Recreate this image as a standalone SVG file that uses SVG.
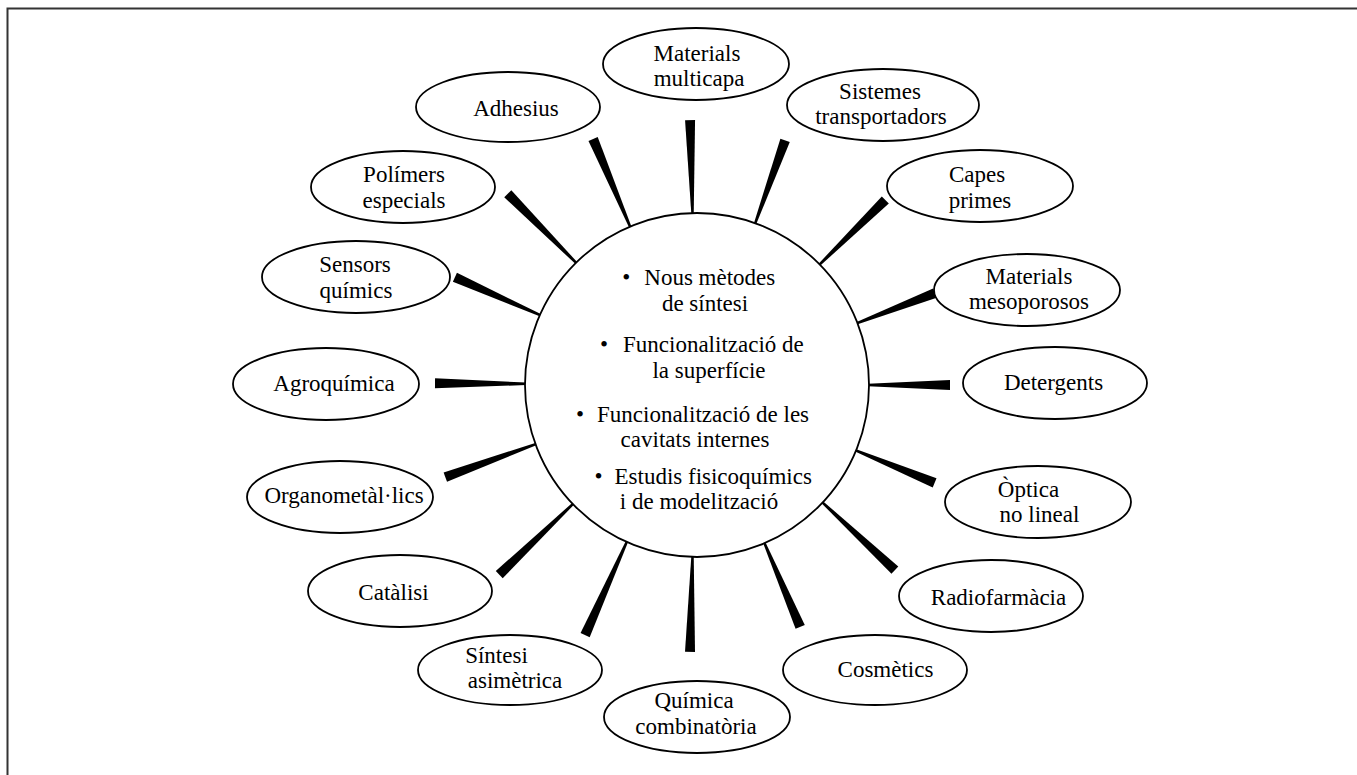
<svg xmlns="http://www.w3.org/2000/svg" width="1357" height="775" viewBox="0 0 1357 775">
<style>
.node ellipse{fill:#fff;stroke:#000;stroke-width:1.8}
text{font-family:"Liberation Serif","Times New Roman",serif;font-size:23px;fill:#000}
.mid{text-anchor:middle}
.st{text-anchor:start}
.spike{fill:#000;stroke:none}
</style>
<rect x="0" y="0" width="1357" height="775" fill="#fff"/>
<path d="M7.5,775 V8.5 H1357" fill="none" stroke="#333" stroke-width="2"/>
<g id="connectors">
<polygon class="spike" points="868,383.8 962,380 962,390 868,386.2" transform="rotate(-91.5 697 385)"/>
<polygon class="spike" points="868,383.8 957,380 957,390 868,386.2" transform="rotate(-70.2 697 385)"/>
<polygon class="spike" points="868,383.8 961,380 961,390 868,386.2" transform="rotate(-44.5 697 385)"/>
<polygon class="spike" points="868,383.8 952,380 952,390 868,386.2" transform="rotate(-21.1 697 385)"/>
<polygon class="spike" points="868,383.8 950,380 950,390 868,386.2"/>
<polygon class="spike" points="868,383.8 954,380 954,390 868,386.2" transform="rotate(22.4 697 385)"/>
<polygon class="spike" points="868,383.8 968,380 968,390 868,386.2" transform="rotate(43.1 697 385)"/>
<polygon class="spike" points="868,383.8 960,380 960,390 868,386.2" transform="rotate(66.9 697 385)"/>
<polygon class="spike" points="868,383.8 964,380 964,390 868,386.2" transform="rotate(91.5 697 385)"/>
<polygon class="spike" points="868,383.8 971,380 971,390 868,386.2" transform="rotate(114.1 697 385)"/>
<polygon class="spike" points="868,383.8 971,380 971,390 868,386.2" transform="rotate(136.2 697 385)"/>
<polygon class="spike" points="868,383.8 965,380 965,390 868,386.2" transform="rotate(159.9 697 385)"/>
<polygon class="spike" points="868,383.8 959,380 959,390 868,386.2" transform="rotate(180.4 697 385)"/>
<polygon class="spike" points="868,383.8 962,380 962,390 868,386.2" transform="rotate(-156 697 385)"/>
<polygon class="spike" points="868,383.8 966,380 966,390 868,386.2" transform="rotate(-134.7 697 385)"/>
<polygon class="spike" points="868,383.8 964,380 964,390 868,386.2" transform="rotate(-112.9 697 385)"/>
</g>
<g id="center" class="node">
<circle cx="697" cy="385" r="172" fill="#fff" stroke="#000" stroke-width="1.8"/>
<text><tspan class="st" x="622.3" y="285.25">•</tspan><tspan class="st" x="644.3" y="285.25">Nous mètodes</tspan><tspan class="mid" x="705" y="310.75">de síntesi</tspan></text>
<text><tspan class="st" x="600" y="352.25">•</tspan><tspan class="st" x="623" y="352.25">Funcionalització de</tspan><tspan class="mid" x="709" y="377.75">la superfície</tspan></text>
<text><tspan class="st" x="576" y="421.75">•</tspan><tspan class="st" x="597" y="421.75">Funcionalització de les</tspan><tspan class="mid" x="695" y="447.25">cavitats internes</tspan></text>
<text><tspan class="st" x="594.5" y="483.75">•</tspan><tspan class="st" x="614.5" y="483.75">Estudis fisicoquímics</tspan><tspan class="mid" x="699" y="509.25">i de modelització</tspan></text>
</g>
<g id="n-multicapa" class="node"><ellipse cx="696" cy="64" rx="93" ry="36"/><text class="mid"><tspan x="697" y="60.75">Materials</tspan><tspan x="699" y="86.25">multicapa</tspan></text></g>
<g id="n-sistemes" class="node"><ellipse cx="883" cy="105" rx="96" ry="36"/><text class="mid"><tspan x="880" y="98.75">Sistemes</tspan><tspan x="881" y="124.25">transportadors</tspan></text></g>
<g id="n-capes" class="node"><ellipse cx="980" cy="186" rx="93" ry="36"/><text class="mid"><tspan x="977" y="182.25">Capes</tspan><tspan x="980" y="207.75">primes</tspan></text></g>
<g id="n-mesoporosos" class="node"><ellipse cx="1027" cy="290" rx="93" ry="36"/><text class="mid"><tspan x="1029" y="283.75">Materials</tspan><tspan x="1029" y="309.25">mesoporosos</tspan></text></g>
<g id="n-detergents" class="node"><ellipse cx="1055" cy="383" rx="92" ry="36"/><text class="mid" x="1053.5" y="390">Detergents</text></g>
<g id="n-optica" class="node"><ellipse cx="1038" cy="502" rx="93" ry="36"/><text class="mid"><tspan x="1028.5" y="496.75">Òptica</tspan><tspan x="1039.5" y="522.25">no lineal</tspan></text></g>
<g id="n-radiofarmacia" class="node"><ellipse cx="991" cy="596" rx="92" ry="36"/><text class="mid" x="998.5" y="605">Radiofarmàcia</text></g>
<g id="n-cosmetics" class="node"><ellipse cx="875" cy="670" rx="92" ry="35"/><text class="mid" x="885.5" y="677">Cosmètics</text></g>
<g id="n-quimica" class="node"><ellipse cx="697" cy="717" rx="93" ry="36"/><text class="mid"><tspan x="694" y="708.25">Química</tspan><tspan x="696" y="733.75">combinatòria</tspan></text></g>
<g id="n-sintesi" class="node"><ellipse cx="510" cy="670" rx="92" ry="35"/><text class="mid"><tspan x="496.5" y="662.75">Síntesi</tspan><tspan x="515" y="688.25">asimètrica</tspan></text></g>
<g id="n-catalisi" class="node"><ellipse cx="400" cy="591" rx="92" ry="36"/><text class="mid" x="393.5" y="600">Catàlisi</text></g>
<g id="n-organometallics" class="node"><ellipse cx="340" cy="497" rx="93" ry="36"/><text class="mid" x="344" y="503">Organometàl·lics</text></g>
<g id="n-agroquimica" class="node"><ellipse cx="326" cy="384" rx="93" ry="36"/><text class="mid" x="334" y="391">Agroquímica</text></g>
<g id="n-sensors" class="node"><ellipse cx="356" cy="277" rx="94" ry="36"/><text class="mid"><tspan x="355" y="272.25">Sensors</tspan><tspan x="356" y="297.75">químics</tspan></text></g>
<g id="n-polimers" class="node"><ellipse cx="403" cy="187" rx="92" ry="36"/><text class="mid"><tspan x="404" y="182.25">Polímers</tspan><tspan x="404" y="207.75">especials</tspan></text></g>
<g id="n-adhesius" class="node"><ellipse cx="508" cy="107" rx="92" ry="35"/><text class="mid" x="516" y="116">Adhesius</text></g>
</svg>
